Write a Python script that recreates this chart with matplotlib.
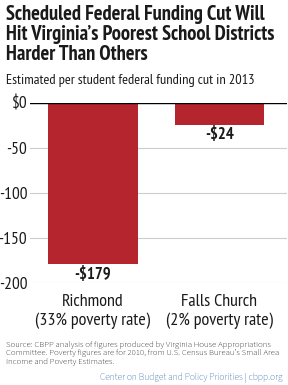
import matplotlib.pyplot as plt

plt.rcParams['font.family'] = ['PT Sans Narrow', 'DejaVu Sans']

# data
districts = ["Richmond\n(33% poverty rate)", "Falls Church\n(2% poverty rate)"]
cuts = [-179, -24]
cut_labels = ["-$179", "-$24"]
yticks = [0, -50, -100, -150, -200]
ytick_labels = ["$0", "-50", "-100", "-150", "-200"]

fig = plt.figure(figsize=(2.88, 3.85), dpi=100)
W, H = 288, 385
ax = fig.add_axes([30 / W, 1 - 283 / H, 257 / W, 180 / H])

x = range(len(cuts))
ax.bar(x, cuts, width=0.71, color="#b5252d", zorder=3)
for xi, v, lab in zip(x, cuts, cut_labels):
    ax.text(xi, v - 3, lab, ha="center", va="top", fontsize=12,
            fontweight="bold", color="#1a1a1a")

ax.set_xlim(-0.498, 1.534)
ax.set_ylim(-200, 0)
ax.set_yticks(yticks)
ax.set_yticklabels(ytick_labels, fontsize=12.5, color="#1a1a1a")
ax.tick_params(axis="y", length=0, pad=2)
ax.grid(axis="y", color="#cccccc", linewidth=0.8, zorder=0)
ax.axhline(0, color="black", linewidth=1, zorder=4)
ax.set_xticks(list(x))
ax.set_xticklabels(districts, fontsize=13, color="#1a1a1a", linespacing=1.2)
ax.tick_params(axis="x", length=0, pad=8)
for s in ax.spines.values():
    s.set_visible(False)

fig.text(6 / W, 1 - 5 / H, "Scheduled Federal Funding Cut Will\nHit Virginia\u2019s Poorest School Districts\nHarder Than Others",
         ha="left", va="top", fontsize=14.8, fontweight="bold", color="#1a1a1a", linespacing=1.05)
fig.text(6 / W, 1 - 84 / H, "Estimated per student federal funding cut in 2013",
         ha="left", va="baseline", fontsize=10.4, color="#1a1a1a")
fig.text(6 / W, 1 - 341 / H,
         "Source: CBPP analysis of figures produced by Virginia House Appropriations\n"
         "Committee. Poverty figures are for 2010, from U.S. Census Bureau\u2019s Small Area\n"
         "Income and Poverty Estimates.",
         ha="left", va="top", fontsize=6.3, color="black", linespacing=1.05,
         family=["Source Sans 3", "DejaVu Sans"])
fig.text(282 / W, 1 - 378 / H, "Center on Budget and Policy Priorities | cbpp.org",
         ha="right", va="center", fontsize=6.8, color="#2a62a8",
         family=["Source Sans 3", "DejaVu Sans"])

fig.savefig("out.png", dpi=100)
